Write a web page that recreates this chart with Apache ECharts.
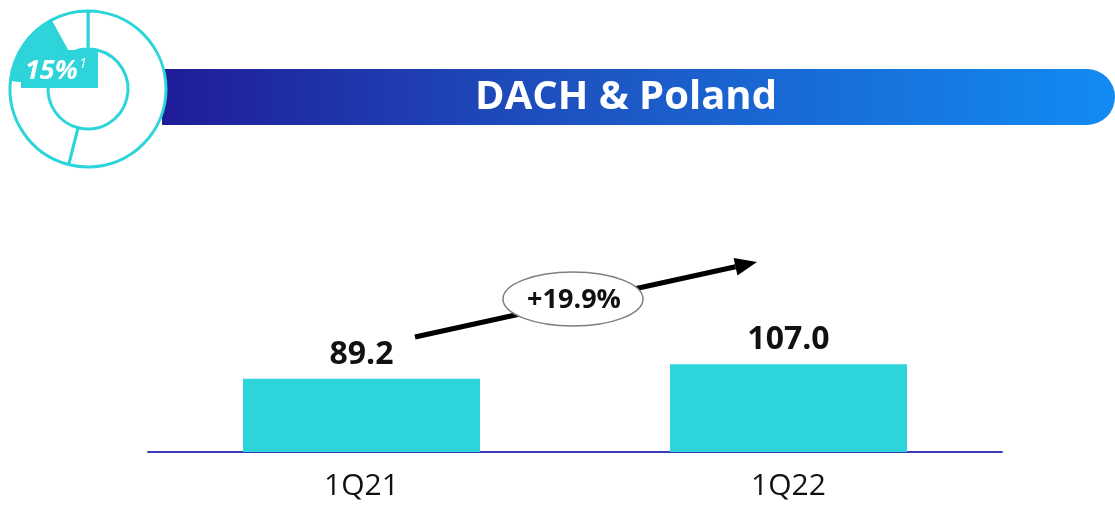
<!DOCTYPE html>
<html>
<head>
<meta charset="utf-8">
<script src="https://cdn.jsdelivr.net/npm/echarts@6/dist/echarts.min.js"></script>
<style>
  html, body { margin: 0; padding: 0; background: #fff; }
  #myChart { width: 1115px; height: 506px; }
</style>
</head>
<body>
<div id="myChart"></div>
<script>
// data
var categories = ['1Q21', '1Q22'];
var revenue = [89.2, 107.0];
var growthLabel = '+19.9%';
var title = 'DACH & Poland';
// decorative donut in the corner (share of group, 15%)
var donutShares = [54, 23, 15, 8];
var donutHighlight = 2;
var shareText = '15%';

var cyan = '#2dd4da';
var font = 'Open Sans';

var myChart = echarts.init(document.getElementById('myChart'));

// arrow from 1Q21 label to above 1Q22
var ax1 = 415, ay1 = 337, ax2 = 757, ay2 = 262;
var ang = Math.atan2(ay2 - ay1, ax2 - ax1);
var headLen = 22, headW = 9;
var bx = ax2 - headLen * Math.cos(ang), by = ay2 - headLen * Math.sin(ang);
var head = [
    [ax2, ay2],
    [bx + headW * Math.sin(ang), by - headW * Math.cos(ang)],
    [bx - headW * Math.sin(ang), by + headW * Math.cos(ang)]
];

var option = {
    animation: false,
    grid: { left: 148, right: 113, top: 288, bottom: 54 },
    xAxis: {
        type: 'category',
        data: categories,
        axisLine: { lineStyle: { color: '#3b3bb8', width: 2 } },
        axisTick: { show: false },
        axisLabel: { fontFamily: font, fontSize: 30, color: '#111', margin: 19 }
    },
    yAxis: {
        type: 'value', min: 0, max: 200,
        show: false, splitLine: { show: false }
    },
    series: [
        {
            type: 'bar',
            data: revenue,
            barWidth: 237,
            itemStyle: { color: cyan },
            label: {
                show: true, position: 'top', distance: 8,
                fontFamily: font, fontSize: 32, fontWeight: 'bold', color: '#111',
                formatter: function (p) { return p.value.toFixed(1); }
            }
        },
        {
            type: 'pie',
            center: [88, 89],
            radius: [40, 78],
            startAngle: 90,
            silent: true,
            z: 5,
            label: { show: false },
            labelLine: { show: false },
            data: donutShares.map(function (v, i) {
                return {
                    value: v,
                    itemStyle: {
                        color: i === donutHighlight ? cyan : '#fff',
                        borderColor: cyan, borderWidth: 3
                    }
                };
            })
        }
    ],
    graphic: [
        {
            type: 'rect', z: 1,
            shape: { x: 162, y: 69, width: 953, height: 56, r: [0, 28, 28, 0] },
            style: {
                fill: new echarts.graphic.LinearGradient(0, 0, 1, 0, [
                    { offset: 0, color: '#201c98' },
                    { offset: 0.45, color: '#1d55c2' },
                    { offset: 1, color: '#128bf3' }
                ])
            }
        },
        {
            type: 'text', z: 2, x: 626, y: 98,
            style: {
                text: title, fill: '#fff', font: 'bold 40px "Open Sans"',
                align: 'center', verticalAlign: 'middle'
            }
        },
        {
            type: 'rect', z: 10,
            shape: { x: 21, y: 50, width: 77, height: 38 },
            style: { fill: cyan }
        },
        {
            type: 'text', z: 11, x: 25, y: 71,
            style: {
                text: '{a|' + shareText + '}{s|1}',
                verticalAlign: 'middle',
                rich: {
                    a: { fontFamily: font, fontSize: 27, fontWeight: 'bold', fontStyle: 'italic', fill: '#fff' },
                    s: { fontFamily: font, fontSize: 15, fontStyle: 'italic', fill: '#fff', verticalAlign: 'top', padding: [0, 0, 14, 1] }
                }
            }
        },
        {
            type: 'line', z: 20,
            shape: { x1: ax1, y1: ay1, x2: bx, y2: by },
            style: { stroke: '#000', lineWidth: 5 }
        },
        {
            type: 'polygon', z: 20,
            shape: { points: head },
            style: { fill: '#000' }
        },
        {
            type: 'ellipse', z: 21,
            shape: { cx: 573, cy: 299, rx: 70, ry: 27 },
            style: { fill: '#fff', stroke: '#7f7f7f', lineWidth: 1.5 }
        },
        {
            type: 'text', z: 22, x: 574, y: 300,
            style: {
                text: growthLabel, fill: '#111', font: 'bold 27px "Open Sans"',
                align: 'center', verticalAlign: 'middle'
            }
        }
    ]
};

window.onresize = myChart.resize;
myChart.setOption(option);
</script>
</body>
</html>
